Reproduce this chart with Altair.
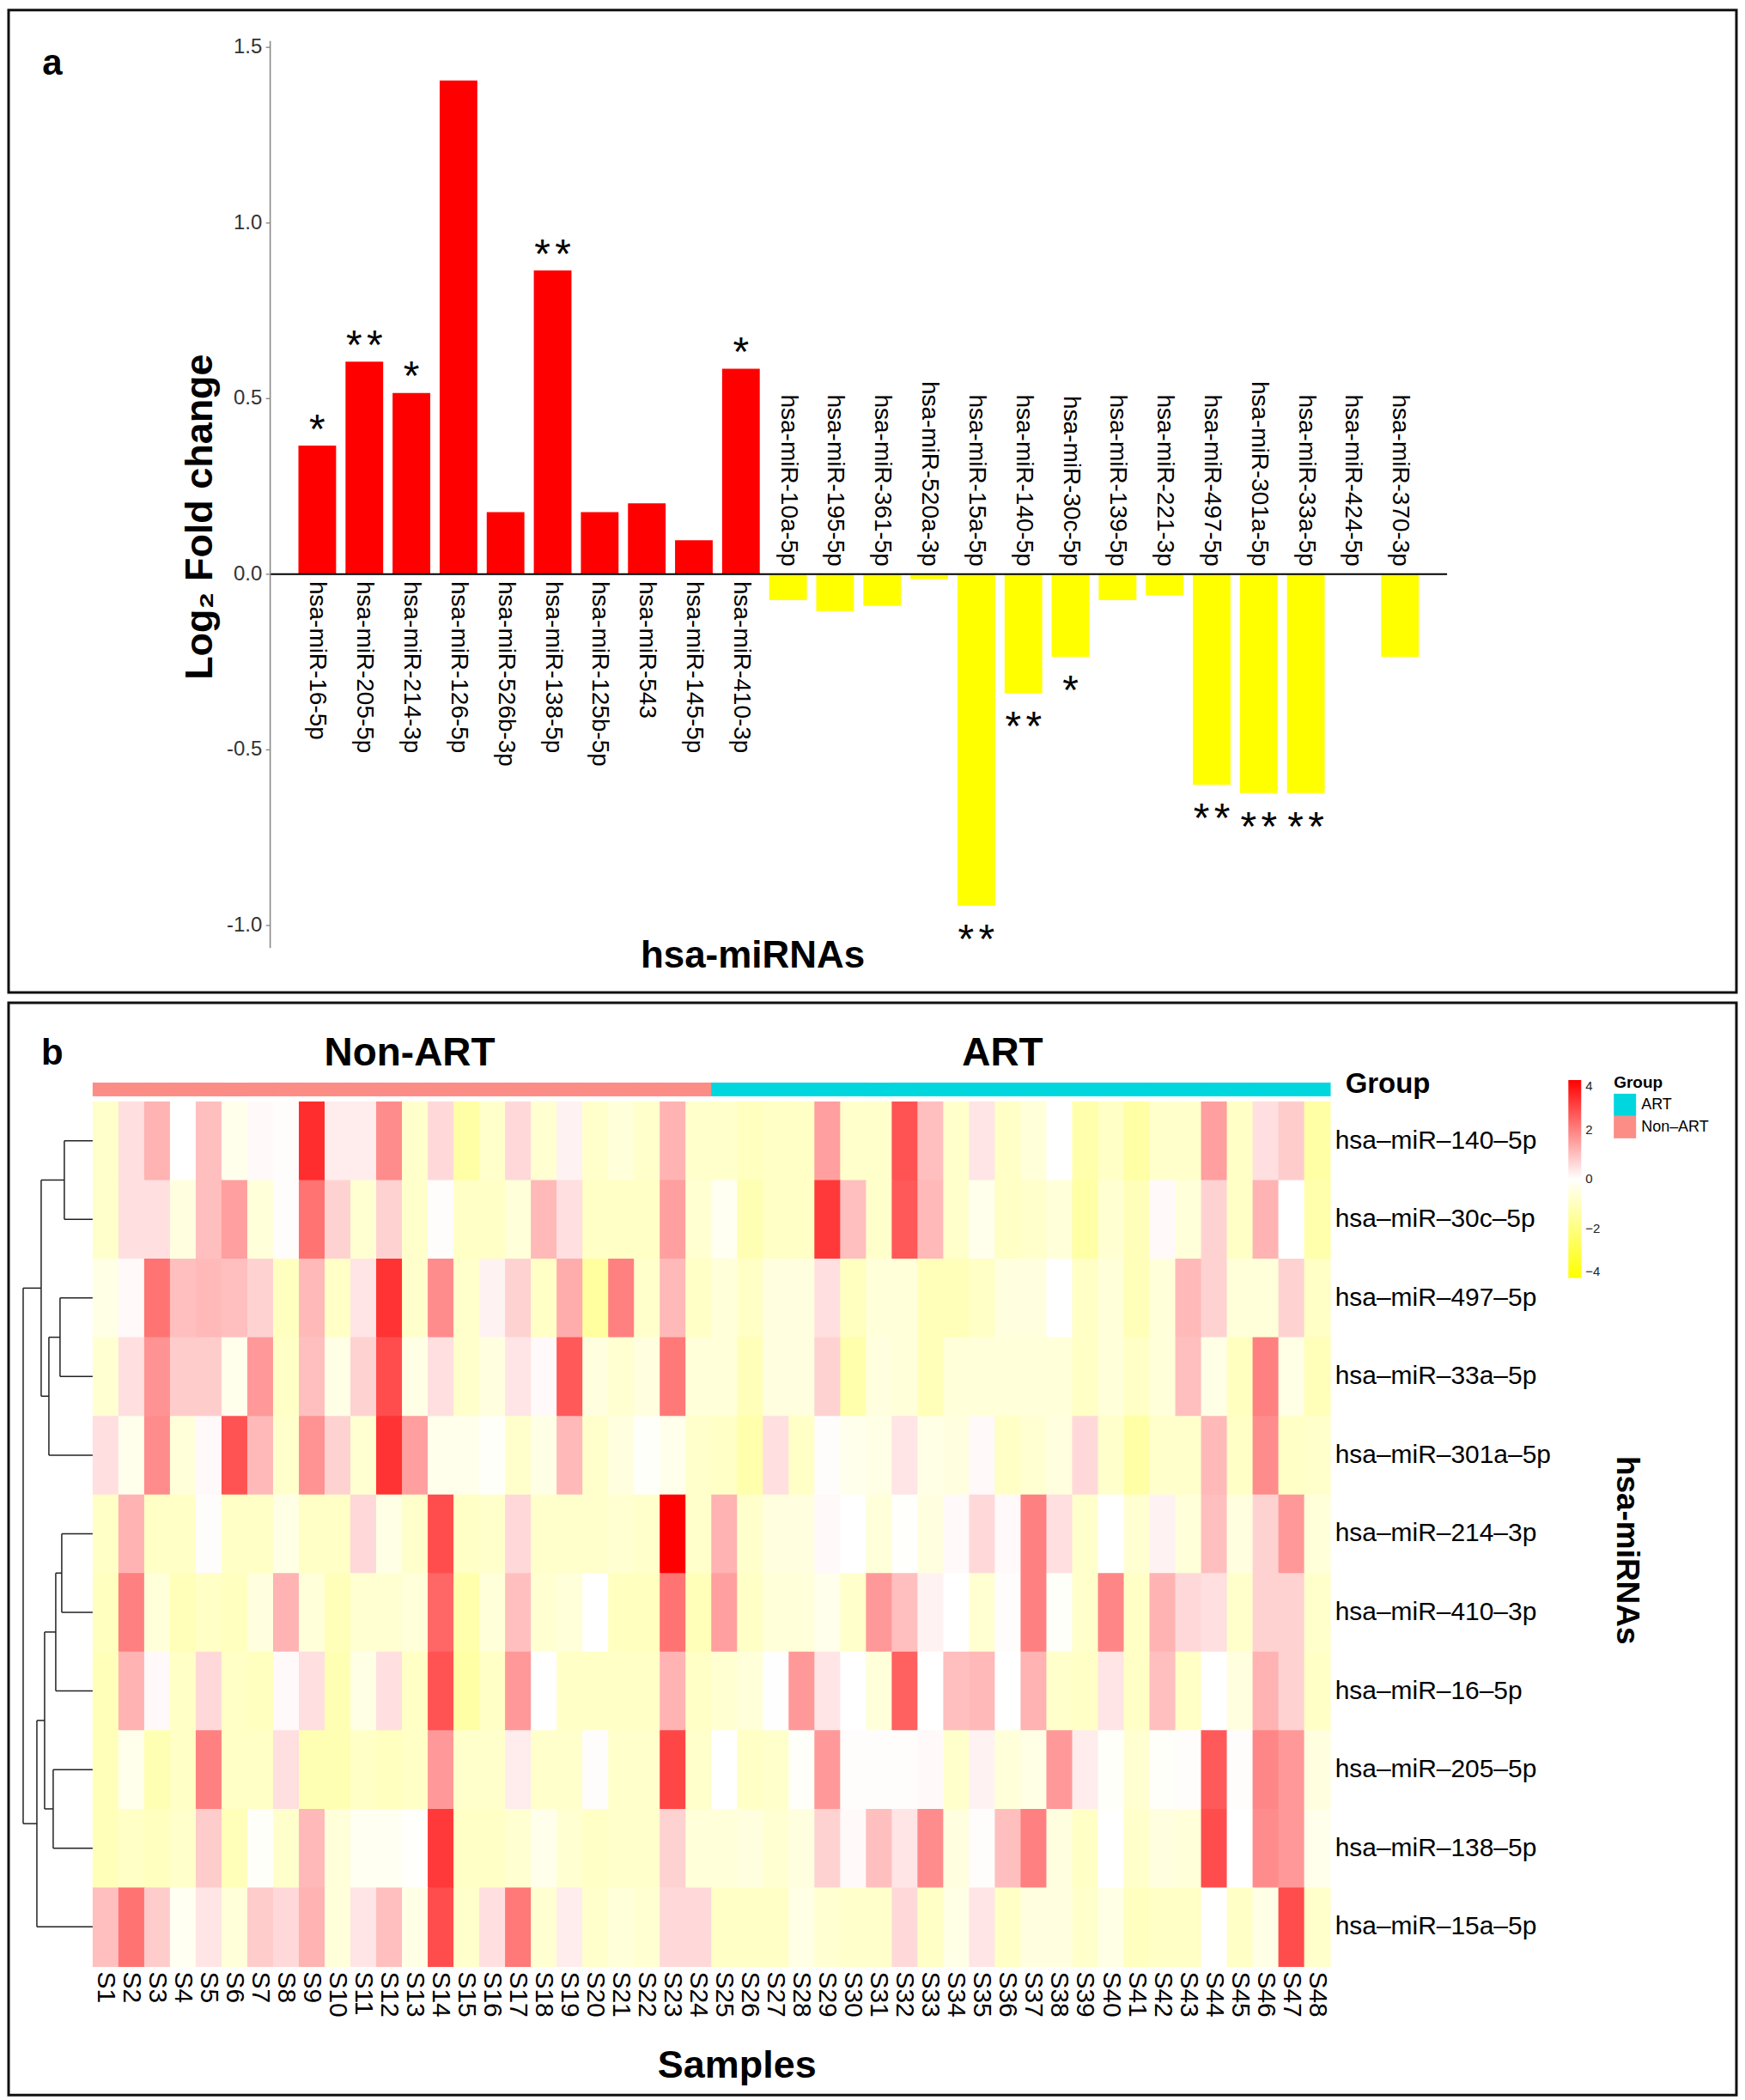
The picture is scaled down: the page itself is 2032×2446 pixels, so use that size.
import altair as alt
import pandas as pd

FONT = "Liberation Sans, Arial, Helvetica, sans-serif"

# ---------------- Panel a: log2 fold change ----------------
mirna_a = ["hsa-miR-16-5p", "hsa-miR-205-5p", "hsa-miR-214-3p", "hsa-miR-126-5p",
           "hsa-miR-526b-3p", "hsa-miR-138-5p", "hsa-miR-125b-5p", "hsa-miR-543",
           "hsa-miR-145-5p", "hsa-miR-410-3p", "hsa-miR-10a-5p", "hsa-miR-195-5p",
           "hsa-miR-361-5p", "hsa-miR-520a-3p", "hsa-miR-15a-5p", "hsa-miR-140-5p",
           "hsa-miR-30c-5p", "hsa-miR-139-5p", "hsa-miR-221-3p", "hsa-miR-497-5p",
           "hsa-miR-301a-5p", "hsa-miR-33a-5p", "hsa-miR-424-5p", "hsa-miR-370-3p"]
log2fc = [0.366, 0.605, 0.516, 1.406, 0.177, 0.865, 0.177, 0.202, 0.097, 0.585,
          -0.074, -0.105, -0.090, -0.014, -0.944, -0.339, -0.235, -0.074, -0.060,
          -0.599, -0.623, -0.623, 0.0, -0.235]
signif = ["*", "**", "*", "", "", "**", "", "", "", "*",
          "", "", "", "", "**", "**", "*", "", "", "**", "**", "**", "", ""]
ytick_values = [-1.0, -0.5, 0.0, 0.5, 1.0, 1.5]
ytick_labels = ["-1.0", "-0.5", "0.0", "0.5", "1.0", "1.5"]

# ---------------- Panel b: heatmap ----------------
heat_rows = ["hsa-miR-140-5p", "hsa-miR-30c-5p", "hsa-miR-497-5p", "hsa-miR-33a-5p",
             "hsa-miR-301a-5p", "hsa-miR-214-3p", "hsa-miR-410-3p", "hsa-miR-16-5p",
             "hsa-miR-205-5p", "hsa-miR-138-5p", "hsa-miR-15a-5p"]
samples = ["S1", "S2", "S3", "S4", "S5", "S6", "S7", "S8", "S9", "S10", "S11", "S12",
           "S13", "S14", "S15", "S16", "S17", "S18", "S19", "S20", "S21", "S22", "S23", "S24",
           "S25", "S26", "S27", "S28", "S29", "S30", "S31", "S32", "S33", "S34", "S35", "S36",
           "S37", "S38", "S39", "S40", "S41", "S42", "S43", "S44", "S45", "S46", "S47", "S48"]
sample_group = ["Non-ART"] * 24 + ["ART"] * 24

hm_140 = [-0.8, 0.5, 1.2, 0.0, 1.0, -0.3, 0.1, 0.05, 3.3, 0.3, 0.3, 1.8,
          -0.8, 0.6, -1.4, -0.8, 0.6, -0.7, 0.2, -0.8, -0.6, -0.8, 1.2, -0.8,
          -0.8, -1.0, -0.9, -0.9, 1.5, -0.8, -0.8, 2.7, 1.0, -0.8, 0.4, -0.9,
          -0.6, 0.0, -1.3, -0.9, -1.4, -0.8, -0.8, 1.5, -0.9, 0.5, 0.8, -1.4]
hm_30c = [-0.8, 0.5, 0.5, -0.5, 1.0, 1.5, -0.6, 0.05, 2.2, 0.7, -0.7, 0.7,
          -0.8, 0.05, -0.9, -0.9, -0.6, 1.1, 0.5, -0.9, -0.9, -0.9, 1.5, -0.7,
          -0.2, -1.2, -0.9, -0.9, 3.1, 1.0, -0.8, 2.6, 1.1, -0.8, -0.3, -0.9,
          -0.8, -0.6, -1.4, -0.7, -1.1, 0.1, -0.6, 0.7, -0.9, 1.2, 0.0, -1.3]
hm_497 = [-0.4, 0.1, 2.2, 1.0, 1.1, 1.0, 0.7, -1.0, 1.1, -0.9, 0.4, 3.2,
          -0.8, 1.8, -0.8, 0.2, 0.7, -0.9, 1.3, -1.5, 2.0, -0.8, 1.1, -0.9,
          -0.6, -0.9, -0.5, -0.5, 0.5, -1.0, -0.6, -0.6, -1.1, -1.1, -0.9, -0.5,
          -0.5, 0.0, -0.9, -0.6, -1.1, -0.6, 1.1, 0.7, -0.6, -0.6, 0.7, -0.9]
hm_33a = [-0.7, 0.5, 1.7, 0.8, 0.8, -0.3, 1.6, -0.9, 1.0, -0.4, 0.7, 2.8,
          -0.4, 0.5, -0.8, -0.5, 0.4, 0.1, 2.6, -0.5, -0.7, -0.5, 2.1, -0.6,
          -0.6, -1.1, -0.5, -0.5, 0.7, -1.3, -0.5, -0.6, -1.1, -0.6, -0.6, -0.6,
          -0.6, -0.6, -0.9, -0.6, -0.9, -0.6, 1.0, -0.4, -1.0, 2.0, -0.4, -1.1]
hm_301a = [0.5, -0.3, 1.8, -0.6, 0.1, 2.7, 1.1, -0.8, 1.7, 0.7, -0.7, 3.2,
           1.5, -0.3, -0.3, -0.1, -0.8, -0.4, 1.1, -0.8, -0.5, -0.1, -0.3, -0.8,
           -0.9, -1.3, 0.5, -0.9, 0.05, -0.3, -0.4, 0.4, -0.4, -0.5, 0.1, -0.9,
           -0.7, -0.5, 0.6, -0.8, -1.4, -0.8, -0.8, 1.1, -0.9, 1.8, -0.9, -0.8]
hm_214 = [-0.9, 1.2, -0.9, -0.9, 0.05, -0.9, -0.9, -0.4, -0.9, -0.9, 0.6, -0.4,
          -0.8, 2.8, -0.9, -0.8, 0.6, -0.8, -0.8, -0.8, -0.7, -0.8, 4.0, -0.8,
          1.2, -0.8, -0.5, -0.5, 0.1, 0.0, -0.6, -0.05, -0.5, 0.1, 0.6, 0.1,
          2.0, 0.5, -0.8, 0.0, -0.7, 0.2, -0.6, 1.0, -0.5, 0.7, 1.6, -0.6]
hm_410 = [-1.0, 2.0, -0.6, -1.1, -0.9, -1.0, -0.5, 1.2, -0.6, -1.1, -0.7, -0.7,
          -0.6, 2.4, -1.3, -0.6, 1.0, -0.7, -0.6, 0.0, -1.0, -1.0, 2.2, -1.1,
          1.5, -0.9, -0.6, -0.6, -0.3, -0.8, 1.6, 1.0, 0.2, 0.0, -0.7, 0.05,
          2.0, -0.1, -0.8, 1.9, -0.9, 1.2, 0.6, 0.5, -0.8, 0.7, 0.7, -0.8]
hm_16 = [-1.1, 1.2, 0.1, -0.9, 0.6, -0.9, -1.0, 0.1, 0.5, -1.2, -0.4, 0.5,
         -0.9, 2.7, -1.4, -0.9, 1.6, 0.0, -0.9, -0.9, -0.9, -0.9, 1.2, -0.9,
         -0.7, -0.6, 0.02, 1.6, 0.4, 0.0, -0.6, 2.5, 0.0, 1.0, 1.1, 0.0,
         1.2, -0.8, -0.9, 0.4, -0.9, 1.0, -0.9, 0.0, -0.5, 1.2, 0.7, -0.9]
hm_205 = [-1.1, -0.3, -1.2, -0.9, 2.0, -0.9, -0.9, 0.5, -1.2, -1.2, -0.9, -1.0,
          -0.9, 1.6, -0.8, -0.8, 0.3, -0.8, -0.8, 0.05, -0.8, -0.8, 2.9, -0.8,
          0.0, -0.9, -0.8, -0.1, 1.6, 0.05, 0.05, 0.05, 0.1, -0.8, 0.2, -0.6,
          -0.4, 1.6, 0.3, -0.1, -0.7, -0.1, 0.05, 2.6, 0.05, 1.9, 1.6, -0.5]
hm_138 = [-1.1, -0.9, -1.0, -0.8, 0.8, -1.1, -0.1, -0.8, 1.1, -0.6, -0.2, -0.2,
          -0.05, 3.1, -0.9, -0.9, -0.7, -0.3, -0.7, -0.9, -0.8, -0.8, 0.7, -0.6,
          -0.6, -0.5, -0.7, -0.5, 0.7, 0.1, 1.0, 0.4, 1.8, -0.5, 0.05, 1.0,
          2.0, -0.5, -0.9, 0.0, -0.8, -0.5, -0.6, 2.8, 0.0, 1.8, 1.6, -0.3]
hm_15a = [1.0, 2.2, 0.8, -0.2, 0.4, -0.6, 0.8, 0.6, 1.2, -0.6, 0.4, 1.0,
          -0.4, 2.8, -0.8, 0.5, 2.1, -0.7, 0.3, -0.8, -0.6, -0.7, 0.6, 0.6,
          -0.9, -0.9, -0.9, -0.4, -0.7, -0.8, -0.8, 0.6, -0.9, -0.4, 0.4, -0.9,
          -0.5, -0.5, -0.8, -0.4, -1.0, -0.9, -0.9, 0.0, -0.9, -0.4, 2.8, -0.8]
heat_values = [hm_140, hm_30c, hm_497, hm_33a, hm_301a, hm_214, hm_410,
               hm_16, hm_205, hm_138, hm_15a]

# hierarchical clustering of rows: (left, right, merge height)
dend_merges = [
    ("hsa-miR-140-5p", "hsa-miR-30c-5p", 3.3),    # c1
    ("hsa-miR-497-5p", "hsa-miR-33a-5p", 3.8),    # c2
    ("c2", "hsa-miR-301a-5p", 5.1),               # c3
    ("c1", "c3", 6.0),                            # c4
    ("hsa-miR-214-3p", "hsa-miR-410-3p", 3.6),    # c5
    ("c5", "hsa-miR-16-5p", 4.3),                 # c6
    ("hsa-miR-205-5p", "hsa-miR-138-5p", 4.6),    # c7
    ("c6", "c7", 5.6),                            # c8
    ("c8", "hsa-miR-15a-5p", 6.5),                # c9
    ("c4", "c9", 8.1),                            # c10
]
color_ticks = [-4, -2, 0, 2, 4]
group_names = ["ART", "Non-ART"]
group_colors = ["#00D6DE", "#FB8D86"]

# =====================================================================
W = 2015
HA = 1146
HB = 1274

# ---------- panel a scales ----------
XA = alt.Scale(domain=[-6.557, 30.146], nice=False, zero=False)
YA = alt.Scale(domain=[-1.191, 1.606], nice=False, zero=False)


def xa(f):
    return alt.X(f"{f}:Q", scale=XA, axis=None)


def ya(f):
    return alt.Y(f"{f}:Q", scale=YA, axis=None)


df_a = pd.DataFrame({"name": mirna_a, "value": log2fc, "sig": signif,
                     "idx": list(range(len(mirna_a)))})

bars = alt.Chart(df_a).transform_calculate(
    xl="datum.idx - 0.40", xr="datum.idx + 0.40", base="0"
).mark_rect().encode(
    x=xa("xl"), x2=alt.X2("xr"), y=ya("base"), y2=alt.Y2("value"),
    color=alt.condition(alt.datum.value > 0, alt.value("#FF0000"), alt.value("#FFFF00")),
)

lab_below = alt.Chart(df_a).transform_filter(alt.datum.value > 0).transform_calculate(
    ly="-0.02"
).mark_text(angle=90, align="left", baseline="middle", font=FONT, fontSize=28,
            color="#000000").encode(x=xa("idx"), y=ya("ly"), text="name:N")

lab_above = alt.Chart(df_a).transform_filter(alt.datum.value <= 0).transform_calculate(
    ly="0.022"
).mark_text(angle=90, align="right", baseline="middle", font=FONT, fontSize=28,
            color="#000000").encode(x=xa("idx"), y=ya("ly"), text="name:N")

# significance stars: one text mark per asterisk
star_base = alt.Chart(df_a).transform_filter("datum.sig != ''").transform_calculate(
    sy="datum.value > 0 ? datum.value + 0.008 : datum.value - 0.134", st="'*'"
)
star_kw = dict(align="center", baseline="alphabetic", font=FONT, fontSize=48,
               color="#000000")
star_single = star_base.transform_filter("datum.sig == '*'").mark_text(**star_kw).encode(
    x=xa("idx"), y=ya("sy"), text="st:N")
star_left = star_base.transform_filter("datum.sig == '**'").mark_text(
    dx=-12, **star_kw).encode(x=xa("idx"), y=ya("sy"), text="st:N")
star_right = star_base.transform_filter("datum.sig == '**'").mark_text(
    dx=12, **star_kw).encode(x=xa("idx"), y=ya("sy"), text="st:N")

axis_line = alt.Chart(pd.DataFrame({"x": [-1.0], "y1": [-1.064], "y2": [1.518]})).mark_rule(
    color="#8a8a8a", strokeWidth=1.6
).encode(x=xa("x"), y=ya("y1"), y2=alt.Y2("y2"))

zero_line = alt.Chart(pd.DataFrame({"x1": [-1.0], "x2": [24.0], "y": [0.0]})).mark_rule(
    color="#000000", strokeWidth=2
).encode(x=xa("x1"), x2=alt.X2("x2"), y=ya("y"))

df_ticks = pd.DataFrame({"v": ytick_values, "lab": ytick_labels})
tick_marks = alt.Chart(df_ticks).transform_calculate(t1="-1.09", t2="-1.0").mark_rule(
    color="#8a8a8a", strokeWidth=1.4
).encode(x=xa("t1"), x2=alt.X2("t2"), y=ya("v"))
tick_text = alt.Chart(df_ticks).transform_calculate(tx="-1.17").mark_text(
    align="right", baseline="middle", font=FONT, fontSize=24, color="#333333"
).encode(x=xa("tx"), y=ya("v"), text="lab:N")


def note(x, y, text, xf, yf, **kw):
    df = pd.DataFrame({"x": [x], "y": [y], "t": [text]})
    return alt.Chart(df).mark_text(font=FONT, color="#000000", **kw).encode(
        x=xf("x"), y=yf("y"), text="t:N")


title_y = note(-2.48, 0.163, "Log\u2082 Fold change", xa, ya, angle=270, align="center",
               baseline="middle", fontSize=45, fontWeight="bold")
title_x = note(9.25, -1.088, "hsa-miRNAs", xa, ya, align="center", baseline="middle",
               fontSize=44, fontWeight="bold")
tag_a = note(-5.63, 1.454, "a", xa, ya, align="center", baseline="middle",
             fontSize=42, fontWeight="bold")

panel_a = alt.layer(
    bars, zero_line, axis_line, tick_marks, tick_text, lab_below, lab_above,
    star_single, star_left, star_right, title_y, title_x, tag_a
).properties(width=W, height=HA)

# ---------- panel b scales ----------
XB = alt.Scale(domain=[-3.26, 63.77], nice=False, zero=False)
YB = alt.Scale(domain=[-1.254, 12.64], nice=False, zero=False, reverse=True)


def xb(f):
    return alt.X(f"{f}:Q", scale=XB, axis=None)


def yb(f):
    return alt.Y(f"{f}:Q", scale=YB, axis=None)


cells = []
for r, row_vals in enumerate(heat_values):
    for c, v in enumerate(row_vals):
        cells.append({"row": heat_rows[r], "sample": samples[c], "value": v,
                      "x0": c, "x1": c + 1.03, "y0": r, "y1": r + 1.01})
df_h = pd.DataFrame(cells)

heat = alt.Chart(df_h).mark_rect().encode(
    x=xb("x0"), x2=alt.X2("x1"), y=yb("y0"), y2=alt.Y2("y1"),
    color=alt.Color(
        "value:Q",
        scale=alt.Scale(domain=[-4, 0, 4], range=["#FFFF00", "#FFFFFF", "#FF0000"],
                        interpolate="rgb"),
        title=None,
        legend=alt.Legend(orient="none", legendX=1819, legendY=90, direction="vertical",
                          gradientLength=231, gradientThickness=15, values=color_ticks,
                          labelFontSize=15, labelFont=FONT, labelOffset=5, padding=0,
                          labelOverlap=False, gradientStrokeWidth=0, labelColor="#222222"),
    ),
)

df_g = pd.DataFrame({"sample": samples, "group": sample_group,
                     "x0": list(range(48)), "x1": [c + 1.03 for c in range(48)]})
gbar = alt.Chart(df_g).transform_calculate(ya0="-0.24", ya1="-0.065").mark_rect().encode(
    x=xb("x0"), x2=alt.X2("x1"), y=yb("ya0"), y2=alt.Y2("ya1"),
    color=alt.Color(
        "group:N",
        scale=alt.Scale(domain=group_names, range=group_colors),
        legend=alt.Legend(orient="none", legendX=1872, legendY=84, title="Group",
                          titleFont=FONT, titleFontSize=19, titleFontWeight="bold",
                          titlePadding=3, labelFont=FONT, labelFontSize=18,
                          symbolType="square", symbolSize=676, symbolStrokeWidth=0,
                          rowPadding=0, padding=0, labelOffset=6,
                          labelExpr="replace(datum.label, '-', '\u2013')"),
    ),
)

# dendrogram segments
dend_unit = 10.0 / 30.06
pos = {name: (i + 0.5, 0.0) for i, name in enumerate(heat_rows)}
segs = []
for k, (a, b, h) in enumerate(dend_merges):
    ya_, ha = pos[a]
    yb_, hb = pos[b]
    segs.append({"x1": -ha * dend_unit, "x2": -h * dend_unit, "y1": ya_, "y2": ya_})
    segs.append({"x1": -hb * dend_unit, "x2": -h * dend_unit, "y1": yb_, "y2": yb_})
    segs.append({"x1": -h * dend_unit, "x2": -h * dend_unit, "y1": ya_, "y2": yb_})
    pos[f"c{k + 1}"] = ((ya_ + yb_) / 2.0, h)
df_d = pd.DataFrame(segs)
dend = alt.Chart(df_d).mark_rule(color="#222222", strokeWidth=1.5).encode(
    x=xb("x1"), x2=alt.X2("x2"), y=yb("y1"), y2=alt.Y2("y2"))

df_rl = pd.DataFrame({"lab": [n.replace("-", "\u2013") for n in heat_rows],
                      "yy": [i + 0.5 for i in range(len(heat_rows))]})
row_labels = alt.Chart(df_rl).transform_calculate(xx="48.2").mark_text(
    align="left", baseline="middle", font=FONT, fontSize=30, color="#000000"
).encode(x=xb("xx"), y=yb("yy"), text="lab:N")

df_sl = pd.DataFrame({"lab": samples, "xx": [c + 0.5 for c in range(48)]})
sample_labels = alt.Chart(df_sl).transform_calculate(yy="11.07").mark_text(
    angle=90, align="left", baseline="middle", font=FONT, fontSize=30, color="#000000"
).encode(x=xb("xx"), y=yb("yy"), text="lab:N")

t_nonart = note(12.3, -0.61, "Non-ART", xb, yb, align="center", baseline="middle",
                fontSize=46, fontWeight="bold")
t_art = note(35.3, -0.61, "ART", xb, yb, align="center", baseline="middle",
             fontSize=46, fontWeight="bold")
t_group = note(48.6, -0.215, "Group", xb, yb, align="left", baseline="middle",
               fontSize=33, fontWeight="bold")
t_samples = note(25.0, 12.27, "Samples", xb, yb, align="center", baseline="middle",
                 fontSize=45, fontWeight="bold")
t_mirna = note(59.5, 5.71, "hsa-miRNAs", xb, yb, angle=90, align="center",
               baseline="middle", fontSize=37, fontWeight="bold")
tag_b = note(-1.57, -0.61, "b", xb, yb, align="center", baseline="middle",
             fontSize=42, fontWeight="bold")

panel_b = alt.layer(
    heat, gbar, dend, row_labels, sample_labels, t_nonart, t_art, t_group,
    t_samples, t_mirna, tag_b
).resolve_scale(color="independent").properties(width=W, height=HB)

chart = alt.vconcat(panel_a, panel_b, spacing=8).configure_view(
    stroke="#111111", strokeWidth=3
).properties(padding=0)

chart.save("out.html", embed_options={"renderer": "svg", "actions": False})
